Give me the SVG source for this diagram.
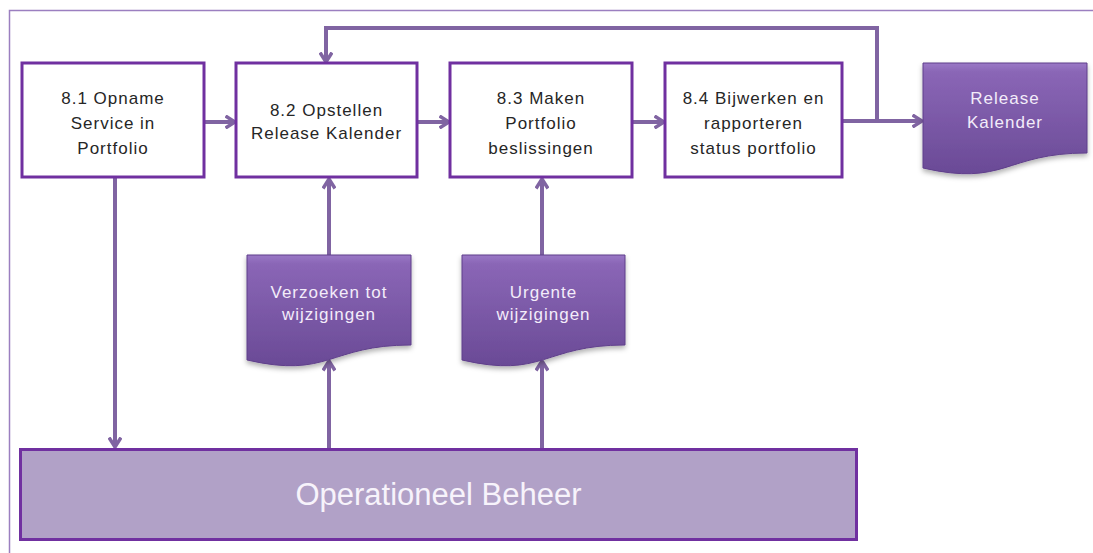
<svg xmlns="http://www.w3.org/2000/svg" width="1093" height="553" viewBox="0 0 1093 553">
<style>
.proc{fill:#ffffff;stroke:#7030a0;stroke-width:3}
.doc{fill:url(#docg);stroke:#5f3f8a;stroke-width:1;filter:url(#sh)}
.ptxt{font-family:"Liberation Sans",Arial,sans-serif;font-size:17px;fill:#262626;text-anchor:middle;letter-spacing:1px}
.dtxt{font-family:"Liberation Sans",Arial,sans-serif;font-size:17px;fill:#f3ecfa;text-anchor:middle;letter-spacing:1px}
.con{fill:none;stroke:#8064a2;stroke-width:4}
.frame{fill:none;stroke:#9b7fc0;stroke-width:1.5}
</style>
<defs>
<linearGradient id="docg" x1="0" y1="0" x2="0" y2="1">
<stop offset="0" stop-color="#9a78c6"/>
<stop offset="0.08" stop-color="#8a66b6"/>
<stop offset="1" stop-color="#6a4a96"/>
</linearGradient>
<filter id="sh" x="-10%" y="-10%" width="120%" height="130%">
<feDropShadow dx="0" dy="3" stdDeviation="2.5" flood-color="#000" flood-opacity="0.3"/>
</filter>
<marker id="ah" viewBox="0 0 12 14" refX="10.5" refY="7" markerWidth="12" markerHeight="14" markerUnits="userSpaceOnUse" orient="auto">
<polyline points="1,1 10.5,7 1,13" fill="none" stroke="#8064a2" stroke-width="3.5"/>
</marker>
</defs>
<rect width="1093" height="553" fill="#ffffff"/>
<path class="frame" d="M9.5,553 V10.5 H1093"/>

<g id="connectors">
<line class="con" x1="205" y1="122" x2="235" y2="122" marker-end="url(#ah)"/>
<line class="con" x1="418" y1="122" x2="449" y2="122" marker-end="url(#ah)"/>
<line class="con" x1="633" y1="122" x2="664" y2="122" marker-end="url(#ah)"/>
<line class="con" x1="843" y1="121" x2="922" y2="121" marker-end="url(#ah)"/>
<path class="con" d="M877,121 V28 H326 V62" marker-end="url(#ah)"/>
<line class="con" x1="115" y1="178" x2="115" y2="447" marker-end="url(#ah)"/>
<line class="con" x1="329" y1="255" x2="329" y2="179" marker-end="url(#ah)"/>
<line class="con" x1="329" y1="448" x2="329" y2="361" marker-end="url(#ah)"/>
<line class="con" x1="542" y1="255" x2="542" y2="179" marker-end="url(#ah)"/>
<line class="con" x1="542" y1="448" x2="542" y2="361" marker-end="url(#ah)"/>
</g>

<g id="n81">
<rect class="proc" x="22" y="63" width="182" height="114"/>
<text class="ptxt" x="113" y="104">8.1 Opname</text>
<text class="ptxt" x="113" y="129">Service in</text>
<text class="ptxt" x="113" y="154">Portfolio</text>
</g>
<g id="n82">
<rect class="proc" x="236" y="63" width="181" height="114"/>
<text class="ptxt" x="326.5" y="116">8.2 Opstellen</text>
<text class="ptxt" x="326.5" y="139">Release Kalender</text>
</g>
<g id="n83">
<rect class="proc" x="450" y="63" width="182" height="114"/>
<text class="ptxt" x="541" y="104">8.3 Maken</text>
<text class="ptxt" x="541" y="129">Portfolio</text>
<text class="ptxt" x="541" y="154">beslissingen</text>
</g>
<g id="n84">
<rect class="proc" x="665" y="63" width="177" height="114"/>
<text class="ptxt" x="753.5" y="104">8.4 Bijwerken en</text>
<text class="ptxt" x="753.5" y="129">rapporteren</text>
<text class="ptxt" x="753.5" y="154">status portfolio</text>
</g>
<g id="releasekalender">
<path class="doc" d="M923,63 H1087 V153 C1005,153 1005,187 923,168 Z"/>
<text class="dtxt" x="1005" y="104">Release</text>
<text class="dtxt" x="1005" y="128">Kalender</text>
</g>
<g id="verzoeken">
<path class="doc" d="M247,255 H411 V345 C329,345 329,379 247,360 Z"/>
<text class="dtxt" x="329" y="298">Verzoeken tot</text>
<text class="dtxt" x="329" y="320">wijzigingen</text>
</g>
<g id="urgente">
<path class="doc" d="M462,255 H625 V345 C543.5,345 543.5,379 462,360 Z"/>
<text class="dtxt" x="543.5" y="298">Urgente</text>
<text class="dtxt" x="543.5" y="320">wijzigingen</text>
</g>
<g id="operationeel">
<rect x="20.5" y="449.5" width="836" height="90" fill="#b1a1c7" stroke="#7030a0" stroke-width="3"/>
<text x="438.5" y="505" font-family="'Liberation Sans',Arial,sans-serif" font-size="31" fill="#f7f3fb" text-anchor="middle">Operationeel Beheer</text>
</g>
</svg>
